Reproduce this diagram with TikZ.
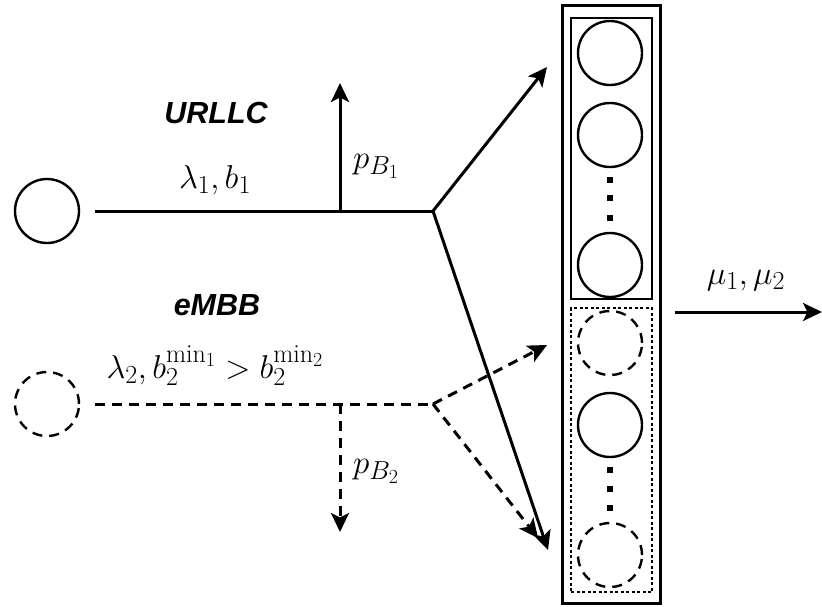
\RequirePackage{fix-cm}
\documentclass[tikz,border=0pt]{standalone}
\usepackage{fontspec}
\newfontfamily\labelfont{Liberation Sans}
\usetikzlibrary{arrows.meta}
\DeclareMathSizes{33}{33}{26}{20}
\begin{document}
\begin{tikzpicture}[x=1pt,y=-1pt,
  ln/.style={line width=3pt},
  arr/.style={ln,-{Stealth[length=19pt,width=18pt,inset=4.5pt]}},
  dsh/.style={dash pattern=on 10pt off 7pt},
  src/.style={circle,draw,line width=2.4pt,minimum size=64pt,inner sep=0pt},
  dsrc/.style={src,dash pattern=on 10pt off 7pt},
  mth/.style={font=\fontsize{33}{38}\selectfont,inner sep=0pt},
  ttl/.style={font=\labelfont\bfseries\itshape\fontsize{30.5}{34}\selectfont,inner sep=0pt},
  dotsq/.style={fill=black,minimum size=5.5pt,inner sep=0pt}]
\useasboundingbox (0,0) rectangle (822,606);
% sources
\node[src] (u) at (47,211) {};
\node[dsrc] (e) at (47,404) {};
\coordinate (bu) at (433,211);
\coordinate (be) at (433,404);
\coordinate (pu) at (340,211);
\coordinate (pe) at (340,404);
\coordinate (pu2) at (340,83);
\coordinate (pe2) at (340,532);
% labels
\node[ttl] (tu) at (216,113) {URLLC};
\node[ttl] (te) at (217,305) {eMBB};
\node[mth,anchor=base] (lu) at (215,188) {$\lambda_1, b_1$};
\node[mth,anchor=base] (le) at (215,378) {$\lambda_2, b_2^{\min_1} > b_2^{\min_2}$};
\node[mth,anchor=base west] (pb1) at (353,168) {$p_{B_1}$};
\node[mth,anchor=base west] (pb2) at (353,473) {$p_{B_2}$};
\node[mth,anchor=base] (mu) at (746,284) {$\mu_1, \mu_2$};
% server box
\node[draw,line width=3pt,minimum width=98pt,minimum height=598pt,inner sep=0pt] (box) at (611,304) {};
\node[draw,line width=1.4pt,minimum width=81pt,minimum height=281pt,inner sep=0pt] (ib) at (611.5,158.5) {};
\node[draw,line width=1.2pt,dash pattern=on 3pt off 2.5pt,minimum width=81pt,minimum height=284pt,inner sep=0pt] (db) at (611.5,450) {};
\node[src] (q1) at (610,53) {};
\node[src] (q2) at (610,135) {};
\node[src] (q3) at (610,265) {};
\node[dsrc] (q4) at (610,343) {};
\node[src] (q5) at (610,425) {};
\node[dsrc] (q6) at (610,555) {};
\node[dotsq] (d1) at (610,180) {};
\node[dotsq] (d2) at (610,198) {};
\node[dotsq] (d3) at (610,218) {};
\node[dotsq] (d4) at (610,470) {};
\node[dotsq] (d5) at (610,489) {};
\node[dotsq] (d6) at (610,508) {};
% targets
\coordinate (tu1) at (547,67);
\coordinate (tu2) at (548,550);
\coordinate (te1) at (547,345);
\coordinate (te2) at (538,538);
\coordinate (o1) at (675,312);
\coordinate (o2) at (822,312);
% connectors
\draw[ln,shorten <=15pt] (u.east) -- (bu);
\draw[arr] (pu) -- (pu2);
\draw[arr] (bu) -- (tu1);
\draw[arr] (bu) -- (tu2);
\draw[ln,dsh,shorten <=15pt] (e.east) -- (be);
\draw[arr,dsh] (pe) -- (pe2);
\draw[arr,dsh] (be) -- (te1);
\draw[arr,dsh] (be) -- (te2);
\draw[arr] (o1) -- (o2);
\end{tikzpicture}
\end{document}
